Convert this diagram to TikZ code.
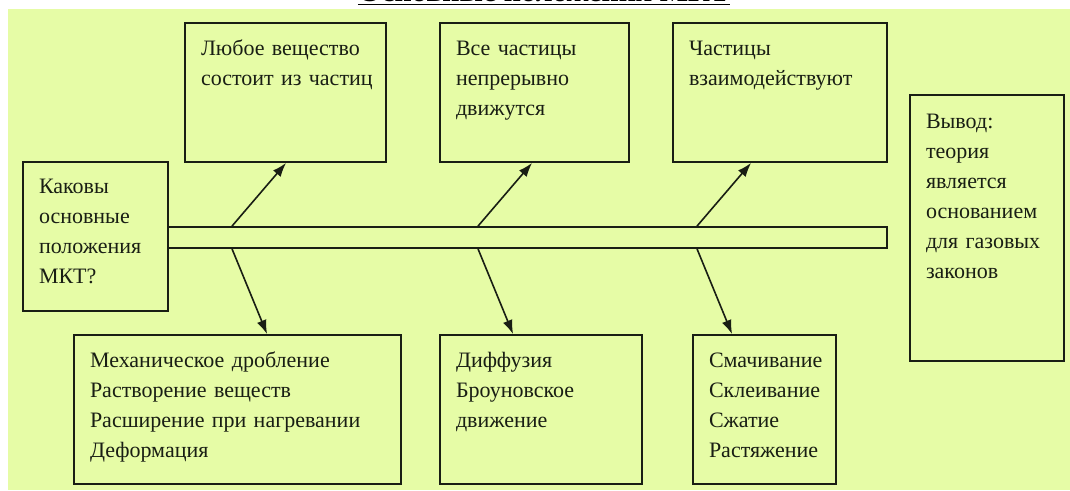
\documentclass[tikz,border=0pt]{standalone}
\usepackage{fontspec}
\setmainfont{Liberation Serif}
\usetikzlibrary{arrows.meta, positioning}

\definecolor{bgyellow}{RGB}{230,252,166}
\definecolor{inkdark}{RGB}{25,30,20}

\begin{document}
\begin{tikzpicture}[
    x=1pt, y=-1pt,
    box/.style={draw=inkdark, line width=1.9pt, align=left, inner xsep=16pt, inner ysep=0pt,
                text height=32pt, text=inkdark, font=\fontsize{22}{30}\selectfont},
    arrow/.style={-{Latex[length=14pt, width=10pt]}, line width=1.6pt, inkdark}
]
\useasboundingbox (0,0) rectangle (1070,490);
\fill[bgyellow] (8,9) rectangle (1070,490);

% Title (cut by the top edge)
\node[font=\fontsize{30}{30}\selectfont\bfseries, inner sep=0pt, anchor=base] (title) at (544,1.5) {Основные положения МКТ};
\draw[line width=1.6pt] ([yshift=-3pt]title.base west) -- ([yshift=-3pt]title.base east);

% Question and spine
\node[box, text width=113pt, text height=31pt, text depth=118pt] (question) at (95.5,236.5) {Каковы\\основные\\положения\\МКТ?};
\node[draw=inkdark, line width=1.9pt, minimum width=719pt, minimum height=21pt, inner sep=0pt] (spine) at (527.5,237.5) {};

% Upper boxes
\node[box, text width=169pt, text depth=107pt] (top1) at (285.5,92.5) {Любое вещество\\состоит~из~частиц};
\node[box, text width=157pt, text depth=107pt] (top2) at (534.5,92.5) {Все частицы\\непрерывно\\движутся};
\node[box, text width=182pt, text depth=107pt] (top3) at (780,92.5) {Частицы\\взаимодействуют};

% Lower boxes
\node[box, text width=295pt, text depth=117pt] (bot1) at (237.5,409.5) {Механическое дробление\\Растворение веществ\\Расширение при нагревании\\Деформация};
\node[box, text width=170pt, text depth=117pt] (bot2) at (541,409.5) {Диффузия\\Броуновское\\движение};
\node[box, text width=111pt, text depth=117pt] (bot3) at (764.5,409.5) {Смачивание\\Склеивание\\Сжатие\\Растяжение};

% Conclusion
\node[box, text width=122pt, text height=33pt, text depth=233pt] (result) at (987,228) {Вывод:\\теория\\является\\основанием\\для газовых\\законов};

% Arrows up
\draw[arrow] ([xshift=65pt]spine.north west) -- ([xshift=102pt]top1.south west);
\draw[arrow] ([xshift=311pt]spine.north west) -- ([xshift=93pt]top2.south west);
\draw[arrow] ([xshift=530pt]spine.north west) -- ([xshift=79pt]top3.south west);

% Arrows down
\draw[arrow] ([xshift=65pt]spine.south west) -- ([xshift=194pt]bot1.north west);
\draw[arrow] ([xshift=311pt]spine.south west) -- ([xshift=74pt]bot2.north west);
\draw[arrow] ([xshift=530pt]spine.south west) -- ([xshift=40pt]bot3.north west);

\end{tikzpicture}
\end{document}
